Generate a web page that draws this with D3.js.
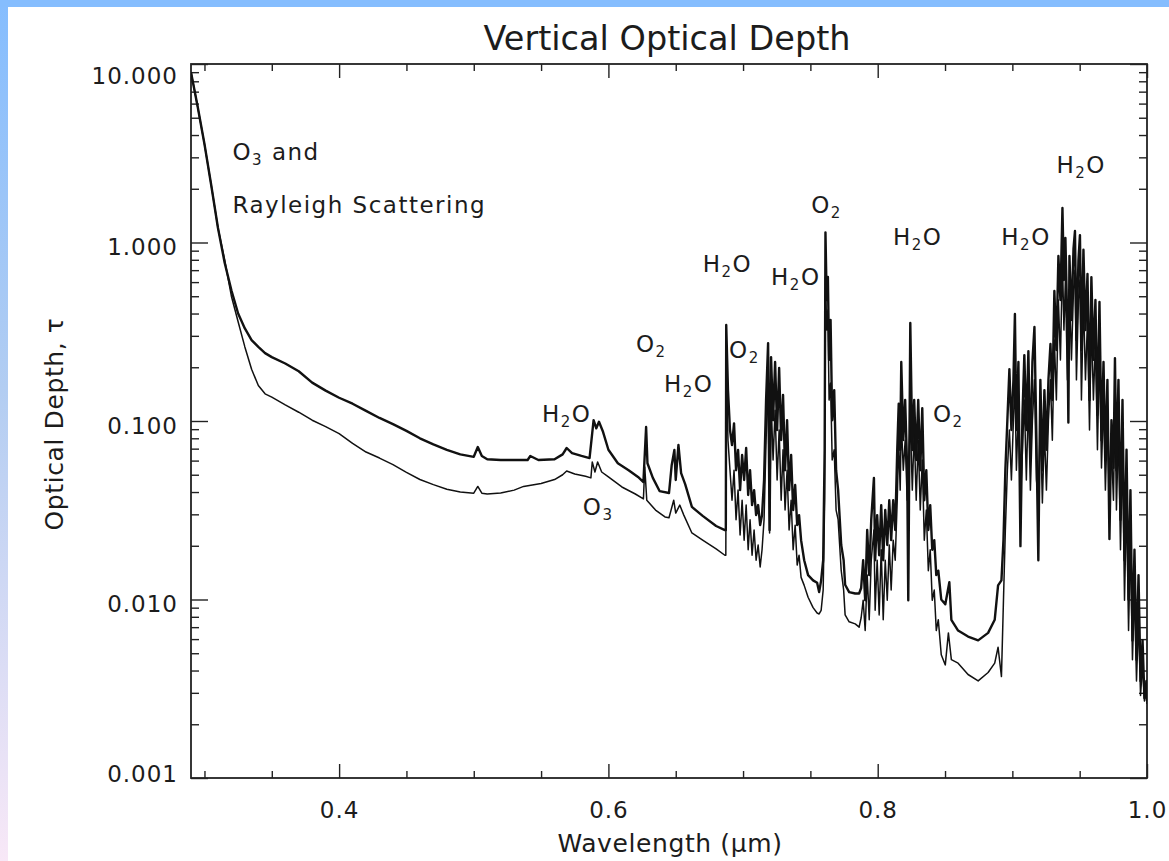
<!DOCTYPE html>
<html><head><meta charset="utf-8">
<script src="https://cdn.jsdelivr.net/npm/d3@7"></script>
<style>
html,body{margin:0;padding:0;background:#fff;}
svg{display:block;}
text{font-family:"DejaVu Sans",sans-serif;fill:#1c1c1c;}
</style></head><body>
<svg id="chart" width="1169" height="861"></svg>
<script>
// ---------------- data ----------------
const chartTitle = "Vertical Optical Depth";
const xTitle = "Wavelength (\u03bcm)";
const yTitle = "Optical Depth, \u03c4";
const xMajorTicks = [0.4, 0.6, 0.8, 1.0];
const xTickLabels = ["0.4", "0.6", "0.8", "1.0"];
const xMinorTicks = [0.3, 0.35, 0.45, 0.5, 0.55, 0.65, 0.7, 0.75, 0.85, 0.9, 0.95];
const yMajorTicks = [10, 1, 0.1, 0.01, 0.001];
const yTickLabels = ["10.000", "1.000", "0.100", "0.010", "0.001"];

// [wavelength (um), optical depth]
const upperCurve = [
[0.290,9.0],[0.295,5.74],[0.300,3.56],[0.305,2.10],[0.310,1.21],[0.315,0.77],[0.320,0.54],[0.325,0.40],[0.330,0.33],[0.335,0.284],
[0.340,0.26],[0.345,0.24],[0.350,0.228],[0.360,0.21],[0.370,0.19],[0.380,0.164],[0.390,0.148],[0.400,0.135],[0.410,0.125],[0.420,0.114],
[0.430,0.104],[0.440,0.096],[0.450,0.088],[0.460,0.080],[0.470,0.074],[0.480,0.069],[0.490,0.065],[0.500,0.063],[0.503,0.0715],[0.506,0.0636],
[0.510,0.061],[0.520,0.0605],[0.530,0.0605],[0.540,0.0605],[0.542,0.0637],[0.548,0.0605],[0.560,0.061],[0.566,0.065],[0.569,0.0706],[0.573,0.066],
[0.580,0.0637],[0.586,0.062],[0.589,0.101],[0.591,0.091],[0.593,0.099],[0.596,0.087],[0.600,0.069],[0.607,0.058],[0.615,0.053],[0.622,0.0486],
[0.626,0.0455],[0.628,0.0925],[0.629,0.058],[0.633,0.048],[0.638,0.0405],[0.645,0.0395],[0.647,0.0566],[0.649,0.0688],[0.650,0.0467],[0.652,0.0734],
[0.654,0.0511],[0.657,0.0443],[0.662,0.033],[0.670,0.0294],[0.680,0.0258],[0.6865,0.0245],[0.6872,0.0245],[0.6875,0.345],[0.6888,0.149],[0.6903,0.089],
[0.6918,0.0733],[0.6933,0.097],[0.6948,0.053],[0.6963,0.0688],[0.6978,0.041],[0.6993,0.0645],[0.7008,0.0467],[0.7023,0.0706],[0.7038,0.0385],[0.7052,0.053],
[0.7067,0.0338],[0.7082,0.041],[0.7097,0.0297],[0.7112,0.0338],[0.7127,0.0261],[0.7141,0.0297],[0.7156,0.0467],[0.7171,0.131],[0.7186,0.273],[0.7197,0.0245],
[0.7208,0.228],[0.7223,0.101],[0.7238,0.214],[0.7253,0.089],[0.7268,0.198],[0.7283,0.0783],[0.7297,0.140],[0.7312,0.053],[0.7327,0.101],[0.7342,0.041],
[0.7357,0.0645],[0.7372,0.0317],[0.7387,0.0438],[0.7402,0.0261],[0.7416,0.0297],[0.7431,0.0215],[0.7454,0.0166],[0.7483,0.0137],[0.7520,0.0128],[0.7550,0.0124],
[0.7565,0.0110],[0.7580,0.0128],[0.7595,0.0166],[0.7606,0.0688],[0.7612,1.14],[0.7621,0.476],[0.7630,0.641],[0.7639,0.22],[0.7650,0.368],[0.7662,0.101],
[0.7677,0.149],[0.7691,0.053],[0.7706,0.041],[0.7729,0.0202],[0.7747,0.0166],[0.7758,0.0121],[0.7788,0.011],[0.7833,0.0108],[0.7862,0.0108],[0.7877,0.0116],
[0.7892,0.0166],[0.7907,0.0099],[0.7922,0.0245],[0.7937,0.0137],[0.7952,0.028],[0.7972,0.048],[0.7981,0.0166],[0.7996,0.0297],[0.8011,0.0177],[0.8026,0.0338],
[0.8041,0.0166],[0.8056,0.0317],[0.8071,0.0202],[0.8086,0.036],[0.8100,0.0215],[0.8115,0.036],[0.8130,0.0245],[0.8145,0.0688],[0.8156,0.125],[0.8167,0.0688],
[0.8175,0.214],[0.8190,0.0783],[0.8204,0.131],[0.8219,0.053],[0.8227,0.0099],[0.8242,0.354],[0.8257,0.0688],[0.8271,0.131],[0.8286,0.0605],[0.8301,0.131],
[0.8316,0.053],[0.8331,0.118],[0.8346,0.036],[0.8361,0.053],[0.8376,0.0245],[0.8390,0.0338],[0.8405,0.019],[0.8420,0.0215],[0.8435,0.0137],[0.8450,0.0145],
[0.8472,0.0100],[0.8502,0.0094],[0.8532,0.0125],[0.8547,0.0077],[0.8597,0.0067],[0.8671,0.0062],[0.8746,0.0059],[0.8820,0.0065],[0.8869,0.0077],[0.8894,0.012],
[0.8919,0.0128],[0.8934,0.0215],[0.8948,0.053],[0.8963,0.101],[0.8978,0.195],[0.8993,0.089],[0.9008,0.17],[0.9019,0.398],[0.9030,0.089],[0.9045,0.214],
[0.9060,0.0199],[0.9075,0.108],[0.9089,0.234],[0.9104,0.089],[0.9119,0.246],[0.9134,0.0605],[0.9149,0.214],[0.9164,0.336],[0.9179,0.078],[0.9193,0.0166],
[0.9208,0.17],[0.9223,0.053],[0.9238,0.149],[0.9253,0.069],[0.9268,0.17],[0.9283,0.27],[0.9297,0.131],[0.9312,0.535],[0.9327,0.25],[0.9342,0.84],
[0.9357,0.476],[0.9372,1.56],[0.9383,0.616],[0.9394,1.06],[0.9409,0.323],[0.9416,0.098],[0.9424,0.84],[0.9439,0.368],[0.9454,0.92],[0.9465,1.16],
[0.9476,0.284],[0.9491,0.80],[0.9502,1.10],[0.9513,0.25],[0.9528,0.91],[0.9543,0.323],[0.9558,0.666],[0.9573,0.131],[0.9587,0.64],[0.9602,0.22],
[0.9617,0.476],[0.9632,0.108],[0.9647,0.464],[0.9662,0.078],[0.9677,0.214],[0.9691,0.0605],[0.9706,0.17],[0.9721,0.0218],[0.9736,0.101],[0.9751,0.0545],
[0.9762,0.225],[0.9773,0.053],[0.9788,0.17],[0.9803,0.028],[0.9818,0.131],[0.9833,0.0166],[0.9848,0.069],[0.9863,0.0100],[0.9877,0.041],[0.9892,0.0059],
[0.9907,0.019],[0.9922,0.0046],[0.9937,0.0137],[0.9952,0.0035],[0.9967,0.0059],[0.9981,0.0028],[0.9996,0.0035],[1.000,0.0027]
];

const lowerCurve = [
[0.290,9.0],[0.295,5.74],[0.300,3.56],[0.305,2.10],[0.310,1.21],[0.315,0.80],[0.320,0.50],[0.325,0.36],[0.330,0.26],[0.335,0.195],
[0.340,0.158],[0.345,0.142],[0.350,0.136],[0.360,0.123],[0.370,0.112],[0.380,0.101],[0.390,0.093],[0.400,0.085],[0.410,0.075],[0.420,0.067],
[0.430,0.062],[0.440,0.057],[0.450,0.0515],[0.460,0.047],[0.470,0.044],[0.480,0.0415],[0.490,0.040],[0.500,0.0394],[0.503,0.043],[0.506,0.0394],
[0.510,0.039],[0.520,0.0395],[0.530,0.041],[0.537,0.043],[0.550,0.0447],[0.560,0.047],[0.566,0.050],[0.569,0.0525],[0.575,0.0505],[0.583,0.049],
[0.587,0.048],[0.588,0.0589],[0.590,0.0518],[0.592,0.0589],[0.595,0.0518],[0.600,0.0486],[0.610,0.0427],[0.620,0.039],[0.626,0.0366],[0.627,0.0552],
[0.6285,0.036],[0.635,0.0317],[0.642,0.029],[0.645,0.0287],[0.6485,0.036],[0.650,0.0305],[0.653,0.0338],[0.656,0.0297],[0.662,0.0236],[0.670,0.0215],
[0.680,0.0192],[0.6865,0.0177],[0.6872,0.0177],[0.6876,0.20],[0.6888,0.078],[0.6903,0.053],[0.6918,0.036],[0.6933,0.053],[0.6948,0.028],[0.6963,0.041],
[0.6978,0.023],[0.6993,0.036],[0.7008,0.0215],[0.7023,0.0338],[0.7038,0.019],[0.7052,0.028],[0.7067,0.0177],[0.7082,0.0245],[0.7097,0.0166],[0.7112,0.0202],
[0.7127,0.0152],[0.7141,0.019],[0.7156,0.028],[0.7171,0.078],[0.7186,0.17],[0.7197,0.0236],[0.7208,0.131],[0.7223,0.0605],[0.7238,0.115],[0.7253,0.0467],
[0.7268,0.089],[0.7283,0.036],[0.7297,0.069],[0.7312,0.0317],[0.7327,0.053],[0.7342,0.0245],[0.7357,0.036],[0.7372,0.019],[0.7387,0.0261],[0.7402,0.0156],
[0.7416,0.0177],[0.7431,0.0133],[0.7454,0.012],[0.7483,0.0103],[0.7520,0.009],[0.7550,0.0084],[0.7565,0.0083],[0.7580,0.0087],[0.7595,0.0113],[0.7606,0.036],
[0.7612,0.64],[0.7621,0.323],[0.7630,0.419],[0.7639,0.131],[0.7650,0.163],[0.7662,0.0605],[0.7677,0.069],[0.7691,0.0317],[0.7706,0.028],[0.7729,0.0145],
[0.7747,0.0113],[0.7758,0.0082],[0.7788,0.0075],[0.7833,0.0073],[0.7862,0.0070],[0.7877,0.0079],[0.7892,0.0099],[0.7907,0.0067],[0.7922,0.0137],[0.7937,0.0077],
[0.7952,0.0166],[0.7972,0.0245],[0.7981,0.0087],[0.7996,0.0166],[0.8011,0.0082],[0.8026,0.019],[0.8041,0.0077],[0.8056,0.0166],[0.8071,0.0099],[0.8086,0.0202],
[0.8100,0.0113],[0.8115,0.0215],[0.8130,0.0166],[0.8145,0.036],[0.8156,0.078],[0.8167,0.041],[0.8175,0.101],[0.8190,0.053],[0.8204,0.078],[0.8219,0.036],
[0.8227,0.053],[0.8242,0.101],[0.8257,0.041],[0.8271,0.089],[0.8286,0.036],[0.8301,0.078],[0.8316,0.0317],[0.8331,0.0605],[0.8346,0.0215],[0.8361,0.0317],
[0.8376,0.0145],[0.8390,0.019],[0.8405,0.0099],[0.8420,0.0113],[0.8435,0.0067],[0.8450,0.0077],[0.8472,0.0049],[0.8502,0.0043],[0.8525,0.0065],[0.8547,0.0046],
[0.8597,0.0044],[0.8671,0.0038],[0.8746,0.0035],[0.8820,0.0039],[0.8869,0.0044],[0.8894,0.0054],[0.8919,0.0037],[0.8934,0.0099],[0.8948,0.0245],[0.8963,0.053],
[0.8978,0.089],[0.8993,0.0467],[0.9008,0.101],[0.9019,0.17],[0.9030,0.053],[0.9045,0.115],[0.9060,0.036],[0.9075,0.069],[0.9089,0.131],[0.9104,0.0467],
[0.9119,0.131],[0.9134,0.041],[0.9149,0.101],[0.9164,0.17],[0.9179,0.0467],[0.9193,0.036],[0.9208,0.101],[0.9223,0.0347],[0.9238,0.089],[0.9253,0.041],
[0.9268,0.101],[0.9283,0.17],[0.9297,0.078],[0.9312,0.284],[0.9327,0.131],[0.9342,0.476],[0.9357,0.22],[0.9372,0.80],[0.9383,0.323],[0.9394,0.616],
[0.9409,0.17],[0.9424,0.54],[0.9439,0.22],[0.9454,0.54],[0.9465,0.70],[0.9476,0.17],[0.9491,0.476],[0.9502,0.616],[0.9513,0.131],[0.9528,0.476],
[0.9543,0.17],[0.9558,0.368],[0.9573,0.089],[0.9587,0.368],[0.9602,0.131],[0.9617,0.284],[0.9632,0.069],[0.9647,0.25],[0.9662,0.0545],[0.9677,0.131],
[0.9691,0.041],[0.9706,0.101],[0.9721,0.0347],[0.9736,0.069],[0.9751,0.036],[0.9762,0.131],[0.9773,0.0317],[0.9788,0.089],[0.9803,0.019],[0.9818,0.069],
[0.9833,0.0099],[0.9848,0.036],[0.9863,0.0067],[0.9877,0.0215],[0.9892,0.0046],[0.9907,0.0113],[0.9922,0.0035],[0.9937,0.0077],[0.9952,0.0029],[0.9967,0.0043],
[0.9981,0.0027],[0.9996,0.0031],[1.000,0.0026]
];

// annotation text anchored at [wavelength, tau] (left / baseline)
const annotations = [
  {at:[0.3208, 2.90], main:"O", sub:"3", rest:" and"},
  {at:[0.3208, 1.46], main:"Rayleigh Scattering", sub:"", rest:""},
  {at:[0.5506, 0.0987], main:"H", sub:"2", rest:"O"},
  {at:[0.5810, 0.0297], main:"O", sub:"3", rest:""},
  {at:[0.6204, 0.243], main:"O", sub:"2", rest:""},
  {at:[0.6413, 0.145], main:"H", sub:"2", rest:"O"},
  {at:[0.6896, 0.225], main:"O", sub:"2", rest:""},
  {at:[0.6700, 0.684], main:"H", sub:"2", rest:"O"},
  {at:[0.7208, 0.578], main:"H", sub:"2", rest:"O"},
  {at:[0.7506, 1.46], main:"O", sub:"2", rest:""},
  {at:[0.8113, 0.968], main:"H", sub:"2", rest:"O"},
  {at:[0.8918, 0.968], main:"H", sub:"2", rest:"O"},
  {at:[0.9327, 2.45], main:"H", sub:"2", rest:"O"},
  {at:[0.8410, 0.0987], main:"O", sub:"2", rest:""}
];

// ---------------- drawing ----------------
const W = 1169, H = 861;
const L = 191, R = 1147, T = 64, B = 778;
const svg = d3.select("#chart");

const defs = svg.append("defs");
const grad = defs.append("linearGradient").attr("id","band").attr("x1",0).attr("y1",0).attr("x2",0).attr("y2",1);
grad.append("stop").attr("offset","0%").attr("stop-color","#85bdfe");
grad.append("stop").attr("offset","45%").attr("stop-color","#b2cdf2");
grad.append("stop").attr("offset","100%").attr("stop-color","#f8e8f7");
defs.append("clipPath").attr("id","plotclip").append("rect")
  .attr("x",L).attr("y",T-2).attr("width",R-L).attr("height",B-T+2);

svg.append("rect").attr("x",0).attr("y",0).attr("width",W).attr("height",H).attr("fill","#fff");
svg.append("rect").attr("x",0).attr("y",0).attr("width",8).attr("height",H).attr("fill","url(#band)");
svg.append("rect").attr("x",0).attr("y",0).attr("width",W).attr("height",7).attr("fill","#85bdfe");

const x = d3.scaleLinear().domain([0.29, 1.0]).range([L, R]);
const y = d3.scaleLog().domain([0.001, 10]).range([B, T]);
const yMinor = y.ticks().filter(v => !yMajorTicks.some(m => Math.abs(Math.log10(v) - Math.log10(m)) < 1e-6));

const tickStyle = g => {
  g.select(".domain").remove();
  g.selectAll(".tick line").attr("stroke","#222").attr("stroke-width",1.4);
};

// bottom
svg.append("g").attr("transform",`translate(0,${B})`)
  .call(d3.axisBottom(x).tickValues(xMinorTicks).tickSize(-7).tickFormat(""))
  .call(tickStyle);
const bx = svg.append("g").attr("transform",`translate(0,${B})`)
  .call(d3.axisBottom(x).tickValues(xMajorTicks).tickSize(-14).tickPadding(24)
        .tickFormat((d,i)=>xTickLabels[i]))
  .call(tickStyle);
bx.attr("font-size",23).attr("font-family","DejaVu Sans, sans-serif");
bx.selectAll("text").attr("fill","#1c1c1c").style("letter-spacing","1px");

// top
svg.append("g").attr("transform",`translate(0,${T})`)
  .call(d3.axisTop(x).tickValues(xMinorTicks).tickSize(-7).tickFormat("")).call(tickStyle);
svg.append("g").attr("transform",`translate(0,${T})`)
  .call(d3.axisTop(x).tickValues(xMajorTicks).tickSize(-14).tickFormat("")).call(tickStyle);

// left
svg.append("g").attr("transform",`translate(${L},0)`)
  .call(d3.axisLeft(y).tickValues(yMinor).tickSize(-8).tickFormat("")).call(tickStyle);
const ly = svg.append("g").attr("transform",`translate(${L},0)`)
  .call(d3.axisLeft(y).tickValues(yMajorTicks).tickSize(-17).tickPadding(13)
        .tickFormat((d,i)=>yTickLabels[i]))
  .call(tickStyle);
ly.attr("font-size",23).attr("font-family","DejaVu Sans, sans-serif");
ly.selectAll("text").attr("fill","#1c1c1c").style("letter-spacing","1px")
  .attr("dy", d => d === 10 ? 19 : (d === 0.001 ? 3 : 12));

// right
svg.append("g").attr("transform",`translate(${R},0)`)
  .call(d3.axisRight(y).tickValues(yMinor).tickSize(-8).tickFormat("")).call(tickStyle);
svg.append("g").attr("transform",`translate(${R},0)`)
  .call(d3.axisRight(y).tickValues(yMajorTicks).tickSize(-17).tickFormat("")).call(tickStyle);

// frame
svg.append("rect").attr("x",L).attr("y",T).attr("width",R-L).attr("height",B-T)
  .attr("fill","none").attr("stroke","#222").attr("stroke-width",1.8);

// curves
const line = d3.line().x(d => x(d[0])).y(d => y(d[1]));
const plot = svg.append("g").attr("clip-path","url(#plotclip)");
plot.append("path").datum(lowerCurve).attr("d",line)
  .attr("fill","none").attr("stroke","#111").attr("stroke-width",1.5).attr("stroke-linejoin","round");
plot.append("path").datum(upperCurve).attr("d",line)
  .attr("fill","none").attr("stroke","#111").attr("stroke-width",2.4).attr("stroke-linejoin","round");

// annotations
const ann = svg.append("g").attr("font-size",23).style("letter-spacing","1.5px");
annotations.forEach(a => {
  const t = ann.append("text").attr("x", x(a.at[0])).attr("y", y(a.at[1])).attr("xml:space","preserve");
  t.append("tspan").text(a.main);
  if (a.sub) {
    t.append("tspan").attr("font-size",15).attr("dy",5).text(a.sub);
    if (a.rest) t.append("tspan").attr("dy",-5).text(a.rest);
  }
});

// titles
svg.append("text").attr("x",667).attr("y",50).attr("text-anchor","middle")
  .attr("font-size",33.5).text(chartTitle);
svg.append("text").attr("x",670).attr("y",852).attr("text-anchor","middle")
  .attr("font-size",25).style("letter-spacing","0.6px").text(xTitle);
svg.append("text").attr("x",63).attr("y",424).attr("text-anchor","middle")
  .attr("transform","rotate(-90,63,424)")
  .attr("font-size",25).style("letter-spacing","0.6px").text(yTitle);
</script>
</body></html>
